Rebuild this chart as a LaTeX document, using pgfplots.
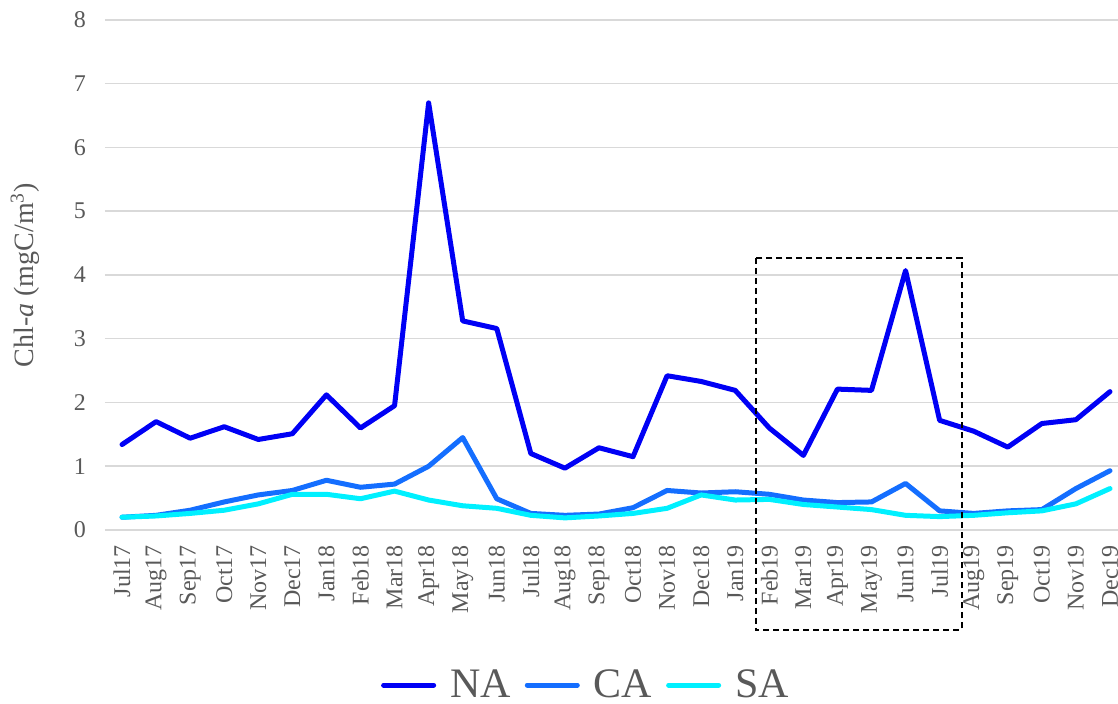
\documentclass[border=0pt]{standalone}
\usepackage{fontspec}
\setmainfont{Liberation Serif}
\usepackage{pgfplots}
\pgfplotsset{compat=1.18}
\definecolor{cNA}{RGB}{0,0,245}
\definecolor{cCA}{RGB}{20,110,255}
\definecolor{cSA}{RGB}{0,240,255}
\definecolor{gridgray}{RGB}{217,217,217}
\definecolor{txtgray}{RGB}{89,89,89}
\begin{document}
\begin{tikzpicture}
\begin{axis}[name=ax, scale only axis, width=511pt, height=255pt,
  xmin=-0.5, xmax=29.5, ymin=0, ymax=8,
  xtick={0,...,29},
  xticklabels={Jul17,Aug17,Sep17,Oct17,Nov17,Dec17,Jan18,Feb18,Mar18,Apr18,May18,Jun18,Jul18,Aug18,Sep18,Oct18,Nov18,Dec18,Jan19,Feb19,Mar19,Apr19,May19,Jun19,Jul19,Aug19,Sep19,Oct19,Nov19,Dec19},
  ytick={0,1,...,8},
  ymajorgrids, grid style={line width=0.75pt, color=gridgray},
  axis line style={draw=none}, tick style={draw=none},
  tick label style={font=\fontsize{12}{14}\selectfont, text=txtgray},
  xticklabel style={rotate=90, anchor=east, xshift=-4pt},
  yticklabel style={xshift=-6pt},
  /pgf/number format/assume math mode=true,
  ylabel={Chl-\textit{a} (mgC/m\textsuperscript{3})},
  ylabel style={at={(axis description cs:-0.078,0.5)}, anchor=center, font=\fontsize{14}{16}\selectfont, text=txtgray},
  clip=false,
  legend columns=3,
  legend style={at={(0.4716,-0.304)}, anchor=center, draw=none, fill=none,
    font=\fontsize{21}{24}\selectfont, text=txtgray, column sep=5pt,
    /tikz/every even column/.append style={column sep=5pt}},
  legend image code/.code={\draw[#1, line width=2.5pt] (0pt,0pt) -- (25pt,0pt);},
  every axis plot/.append style={line width=2.5pt, line join=round, line cap=round},
]
\addplot[cNA] coordinates {
(0,1.34) (1,1.70) (2,1.44) (3,1.62) (4,1.42) (5,1.51) (6,2.12) (7,1.60) (8,1.95) (9,6.70)
(10,3.28) (11,3.16) (12,1.20) (13,0.97) (14,1.29) (15,1.15) (16,2.42) (17,2.33) (18,2.19) (19,1.60)
(20,1.17) (21,2.21) (22,2.19) (23,4.07) (24,1.72) (25,1.55) (26,1.30) (27,1.67) (28,1.73) (29,2.17)};
\addlegendentry{NA}
\addplot[cCA] coordinates {
(0,0.20) (1,0.23) (2,0.31) (3,0.44) (4,0.55) (5,0.62) (6,0.78) (7,0.67) (8,0.72) (9,1.00)
(10,1.45) (11,0.49) (12,0.26) (13,0.23) (14,0.25) (15,0.35) (16,0.62) (17,0.58) (18,0.60) (19,0.56)
(20,0.47) (21,0.43) (22,0.44) (23,0.73) (24,0.30) (25,0.26) (26,0.30) (27,0.32) (28,0.65) (29,0.93)};
\addlegendentry{CA}
\addplot[cSA] coordinates {
(0,0.20) (1,0.22) (2,0.26) (3,0.31) (4,0.41) (5,0.56) (6,0.56) (7,0.49) (8,0.61) (9,0.47)
(10,0.38) (11,0.34) (12,0.23) (13,0.19) (14,0.22) (15,0.26) (16,0.34) (17,0.55) (18,0.47) (19,0.48)
(20,0.40) (21,0.36) (22,0.32) (23,0.23) (24,0.21) (25,0.23) (26,0.27) (27,0.30) (28,0.41) (29,0.65)};
\addlegendentry{SA}
\draw[black, line width=1pt, dash pattern=on 3pt off 2pt] (axis cs:18.6,4.27) rectangle (axis cs:24.65,-1.57);
\end{axis}
\pgfresetboundingbox
\path ([xshift=-52.5pt,yshift=-87pt]ax.south west) rectangle ([xshift=-4.5pt,yshift=10pt]ax.north east);
\end{tikzpicture}
\end{document}
